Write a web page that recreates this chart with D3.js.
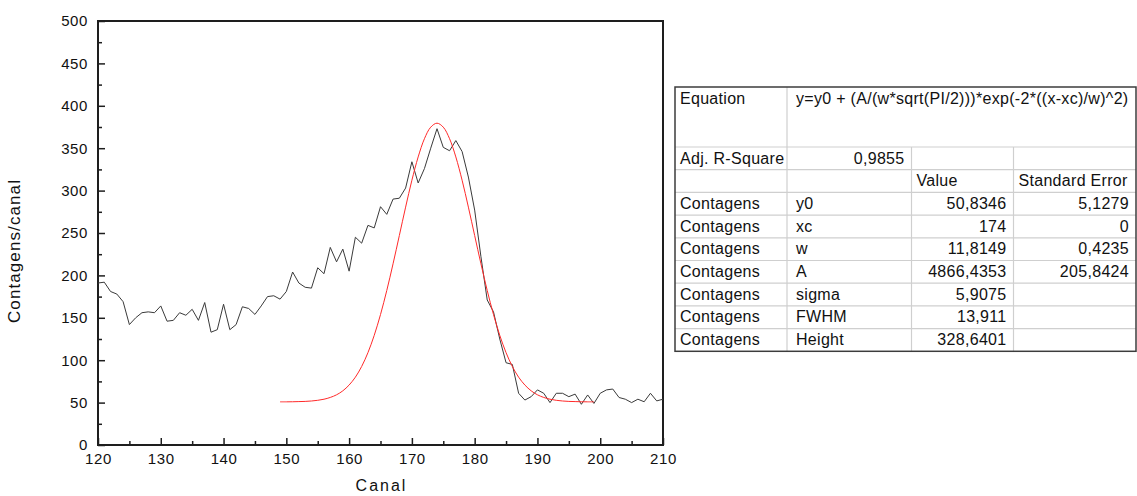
<!DOCTYPE html>
<html>
<head>
<meta charset="utf-8">
<script src="https://cdn.jsdelivr.net/npm/d3@7/dist/d3.min.js"></script>
<style>
  html, body { margin: 0; padding: 0; background: #fff; }
  svg { display: block; font-family: "Liberation Sans", Arial, sans-serif; }
</style>
</head>
<body>
<svg id="chart" width="1137" height="496"></svg>
<script>
// ---- Data ----
const channels = [120,121,122,123,124,125,126,127,128,129,130,131,132,133,134,135,136,137,138,139,
  140,141,142,143,144,145,146,147,148,149,150,151,152,153,154,155,156,157,158,159,
  160,161,162,163,164,165,166,167,168,169,170,171,172,173,174,175,176,177,178,179,
  180,181,182,183,184,185,186,187,188,189,190,191,192,193,194,195,196,197,198,199,
  200,201,202,203,204,205,206,207,208,209,210];
const counts = [191,192,181,178,169,142,150,156,157,156,164,146,147,156,153,160,147,168,133,136,
  166,136,142,163,161,154,164,175,176,172,181,204,191,186,185,209,202,233,216,231,
  205,245,238,259,256,281,272,290,291,303,334,309,326,350,373,351,347,359,346,316,
  277,222,171,157,125,97,95,61,53,57,65,61,50,61,61,57,60,48,59,49,
  61,65,66,56,54,50,54,51,61,52,54];
const fitChannels = [149,150,151,152,153,154,155,156,157,158,159,160,161,162,163,164,165,166,167,168,
  169,170,171,172,173,174,175,176,177,178,179,180,181,182,183,184,185,186,187,188,
  189,190,191,192,193,194,195,196,197,198,199];
const fitValues = [50.9,50.9,51.0,51.2,51.4,51.9,52.7,54.0,56.1,59.2,63.9,70.7,80.0,92.6,108.9,129.3,153.8,182.2,213.7,247.0,
  280.5,312.2,339.7,361.2,374.8,379.5,374.8,361.2,339.7,312.2,280.5,247.0,213.7,182.2,153.8,129.3,108.9,92.6,80.0,70.7,
  63.9,59.2,56.1,54.0,52.7,51.9,51.4,51.2,51.0,50.9,50.9];
const xMajorTicks = [120,130,140,150,160,170,180,190,200,210];
const xMinorTicks = [125,135,145,155,165,175,185,195,205];
const yMajorTicks = [0,50,100,150,200,250,300,350,400,450,500];
const yMinorTicks = [25,75,125,175,225,275,325,375,425,475];
const xTitle = "Canal";
const yTitle = "Contagens/canal";

const equationLabel = "Equation";
const equationText = "y=y0 + (A/(w*sqrt(PI/2)))*exp(-2*((x-xc)/w)^2)";
const adjLabel = "Adj. R-Square";
const adjValue = "0,9855";
const headerCols = ["Value", "Standard Error"];
const rowLabel = "Contagens";
const paramNames = ["y0","xc","w","A","sigma","FWHM","Height"];
const paramValues = ["50,8346","174","11,8149","4866,4353","5,9075","13,911","328,6401"];
const paramErrors = ["5,1279","0","0,4235","205,8424","","",""];

// ---- Layout ----
const svg = d3.select("#chart");
const L = 98, R = 663, T = 21, B = 445;
const x = d3.scaleLinear().domain([120, 210]).range([L, R]);
const y = d3.scaleLinear().domain([0, 500]).range([B, T]);
const axisColor = "#1e1e1e";

const gx = svg.append("g").attr("transform", `translate(0,${B})`)
  .call(d3.axisBottom(x).tickValues(xMajorTicks).tickSizeInner(-7).tickSizeOuter(0).tickPadding(8).tickFormat(d3.format("d")));
const gxm = svg.append("g").attr("transform", `translate(0,${B})`)
  .call(d3.axisBottom(x).tickValues(xMinorTicks).tickSizeInner(-4).tickSizeOuter(0).tickFormat(""));
const gy = svg.append("g").attr("transform", `translate(${L},0)`)
  .call(d3.axisLeft(y).tickValues(yMajorTicks).tickSizeInner(-7).tickSizeOuter(0).tickPadding(10).tickFormat(d3.format("d")));
const gym = svg.append("g").attr("transform", `translate(${L},0)`)
  .call(d3.axisLeft(y).tickValues(yMinorTicks).tickSizeInner(-4).tickSizeOuter(0).tickFormat(""));
[gx, gxm, gy, gym].forEach(g => {
  g.select(".domain").remove();
  g.selectAll(".tick line").attr("stroke", axisColor).attr("stroke-width", 1.5);
  g.selectAll(".tick text").attr("fill", "#111").style("font-size", "15px")
    .style("letter-spacing", "0.6px")
    .style("font-family", "'Liberation Sans', Arial, sans-serif");
});

// frame
svg.append("rect").attr("x", L).attr("y", T).attr("width", R - L).attr("height", B - T)
  .attr("fill", "none").attr("stroke", axisColor).attr("stroke-width", 2);

// data line
const line = d3.line().x((d, i) => x(channels[i])).y(d => y(d));
svg.append("path").datum(counts).attr("d", line)
  .attr("fill", "none").attr("stroke", "#3a3a3a").attr("stroke-width", 1);

// fit line
const fitLine = d3.line().x((d, i) => x(fitChannels[i])).y(d => y(d)).curve(d3.curveCatmullRom);
svg.append("path").datum(fitValues).attr("d", fitLine)
  .attr("fill", "none").attr("stroke", "#ff2a2a").attr("stroke-width", 1);

// titles
svg.append("text").attr("x", (L + R) / 2 + 1).attr("y", 491).attr("text-anchor", "middle")
  .style("font-size", "16px").style("letter-spacing", "2px").attr("fill", "#111").text(xTitle);
svg.append("text").attr("transform", "translate(20,251) rotate(-90)").attr("text-anchor", "middle")
  .style("font-size", "17px").style("letter-spacing", "1.1px").attr("fill", "#111").text(yTitle);

// ---- Table ----
const colX = [675, 787, 911.5, 1013.5, 1136];
const rowY = [87, 147];
for (let i = 0; i < 9; i++) rowY.push(147 + (i + 1) * 22.7);
const tg = svg.append("g").style("font-size", "16px").style("letter-spacing", "0.3px").attr("fill", "#111");
const gridColor = "#cfcfcf";
rowY.slice(1, -1).forEach(yy => {
  tg.append("line").attr("x1", colX[0]).attr("x2", colX[4]).attr("y1", yy).attr("y2", yy)
    .attr("stroke", gridColor).attr("stroke-width", 1.2);
});
tg.append("line").attr("x1", colX[1]).attr("x2", colX[1]).attr("y1", rowY[0]).attr("y2", rowY[10])
  .attr("stroke", gridColor).attr("stroke-width", 1.2);
[colX[2], colX[3]].forEach(cx => {
  tg.append("line").attr("x1", cx).attr("x2", cx).attr("y1", rowY[1]).attr("y2", rowY[10])
    .attr("stroke", gridColor).attr("stroke-width", 1.2);
});
tg.append("rect").attr("x", colX[0]).attr("y", rowY[0]).attr("width", colX[4] - colX[0]).attr("height", rowY[10] - rowY[0])
  .attr("fill", "none").attr("stroke", "#3c3c3c").attr("stroke-width", 1.5);

const base = r => rowY[r] + 16.5;
const padL = 5, padR = 7;
tg.append("text").attr("x", colX[0] + padL).attr("y", 103.5).text(equationLabel);
tg.append("text").attr("x", colX[1] + 9).attr("y", 103.5).text(equationText);
tg.append("text").attr("x", colX[0] + padL).attr("y", base(1)).text(adjLabel);
tg.append("text").attr("x", colX[2] - padR).attr("y", base(1)).attr("text-anchor", "end").text(adjValue);
tg.append("text").attr("x", colX[2] + padL).attr("y", base(2)).text(headerCols[0]);
tg.append("text").attr("x", colX[3] + padL).attr("y", base(2)).text(headerCols[1]);
paramNames.forEach((p, i) => {
  const r = 3 + i;
  tg.append("text").attr("x", colX[0] + padL).attr("y", base(r)).text(rowLabel);
  tg.append("text").attr("x", colX[1] + 9).attr("y", base(r)).text(p);
  tg.append("text").attr("x", colX[3] - padR).attr("y", base(r)).attr("text-anchor", "end").text(paramValues[i]);
  if (paramErrors[i]) tg.append("text").attr("x", colX[4] - padR).attr("y", base(r)).attr("text-anchor", "end").text(paramErrors[i]);
});
</script>
</body>
</html>
